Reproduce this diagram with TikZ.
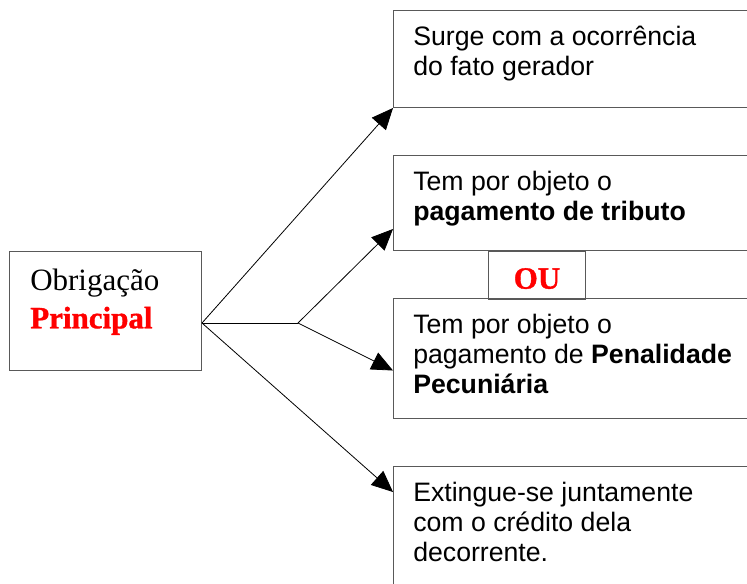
\documentclass[tikz,border=0pt]{standalone}
\usepackage{fontspec}
\usepackage{xcolor}
\usetikzlibrary{positioning,calc,arrows.meta}
\newfontfamily\arialfont{Liberation Sans}
\newfontfamily\timesfont[BoldFeatures={FakeBold=1.2}]{Liberation Serif}

\begin{document}
\begin{tikzpicture}[x=0.75pt, y=0.75pt,
	box/.style={rectangle, draw=black!65, line width=0.75pt, inner sep=0pt, anchor=north west},
	txt/.style={inner sep=0pt, align=left, font=\arialfont\fontsize{20}{22.5}\selectfont},
	arr/.style={-{Triangle[length=16pt, width=14pt]}, line width=0.6pt}]
	\clip (0,0) rectangle (747,-583);

	\node[box, minimum width=144pt, minimum height=89.25pt] (src) at (9,-251) {};
	\node[inner sep=0pt, align=left, font=\timesfont\fontsize{23.25}{28.5}\selectfont] (tsrc) [below right=9.3pt and 15.75pt of src.north west] {\strut Obriga\c{c}\~ao\\\textcolor{red}{\textbf{Principal}}};

	\node[box, minimum width=275.25pt, minimum height=72.75pt] (b1) at (393,-10) {};
	\node[box, minimum width=275.25pt, minimum height=71.25pt] (b2) at (393,-155) {};
	\node[box, minimum width=72.75pt, minimum height=36pt, anchor=north west, text height=20pt, font=\timesfont\bfseries\fontsize{23.25}{28.5}\selectfont, text=red] (ou) [below right=0pt and 71.25pt of b2.south west] {OU};
	\node[box, minimum width=275.25pt, minimum height=90pt] (b3) at (393,-298) {};
	\node[box, minimum width=275.25pt, minimum height=105pt] (b4) at (393,-466) {};

	\node[txt] (t1) [below right=10.5pt and 15pt of b1.north west] {\strut Surge com a ocorr\^encia\\do fato gerador};
	\node[txt] (t2) [below right=10.5pt and 15pt of b2.north west] {\strut Tem por objeto o\\\textbf{pagamento de tributo}};
	\node[txt] (t3) [below right=10.5pt and 15pt of b3.north west] {\strut Tem por objeto o\\pagamento de \textbf{Penalidade}\\\textbf{Pecuni\'aria}};
	\node[txt] (t4) [below right=10.5pt and 15pt of b4.north west] {\strut Extingue-se juntamente\\com o cr\'edito dela\\decorrente.};

	\coordinate (o) at ($(src.south east)!0.4!(src.north east)$);
	\coordinate (fk) at ($(o)+(96,0)$);

	\draw[line width=0.6pt] (o) -- (fk);
	\draw[arr] (o) -- (b1.south west);
	\draw[arr] (fk) -- ($(b2.south west)+(0,22)$);
	\draw[arr] (fk) -- ($(b3.west)+(0,-12)$);
	\draw[arr] (o) -- ($(b4.north west)+(0,-26)$);
\end{tikzpicture}
\end{document}
